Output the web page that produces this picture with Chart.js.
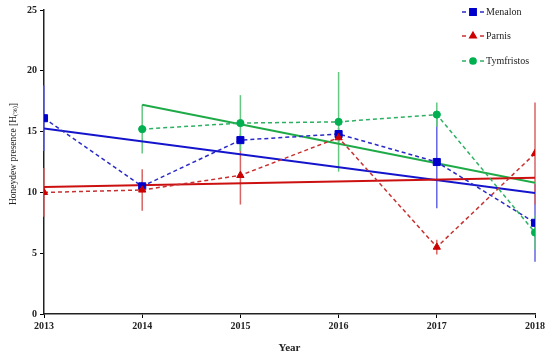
<!DOCTYPE html>
<html>
<head>
<meta charset="utf-8">
<script src="https://cdn.jsdelivr.net/npm/chart.js@4"></script>
<style>
  html, body { margin: 0; padding: 0; background: #fff; }
  #c { display: block; }
</style>
</head>
<body>
<canvas id="c" width="550" height="361"></canvas>
<script>
// ---- data ----
const years = [2013, 2014, 2015, 2016, 2017, 2018];
const yTicks = [0, 5, 10, 15, 20, 25];
const seriesNames = ['Menalon', 'Parnis', 'Tymfristos'];

const menalon    = [16.1, 10.5, 14.3, 14.8, 12.5, 7.5];
const menalonErr = [2.7, 0.4, 0.5, 0.5, 3.8, 3.2];

const parnis    = [10.0, 10.2, 11.4, 14.5, 5.5, 13.2];
const parnisErr = [2.0, 1.7, 2.4, 0.4, 0.6, 4.2];

const tymfristos    = [null, 15.2, 15.7, 15.8, 16.4, 6.7];
const tymfristosErr = [null, 2.0, 2.3, 4.1, 1.0, 1.4];

// linear trend lines (start / end)
const menalonTrendX = [2013, 2018];
const menalonTrend  = [15.25, 9.95];
const parnisTrendX  = [2013, 2018];
const parnisTrend   = [10.45, 11.2];
const tymTrendX     = [2014, 2018];
const tymTrend      = [17.2, 10.8];

// ---- styles ----
const FONT = "'Liberation Serif', 'Times New Roman', serif";
const colors = {
  Menalon:    { mark: '#0000cc', dash: '#2a2ac8', trend: '#1414cc', err: '#6464e6' },
  Parnis:     { mark: '#cc0000', dash: '#c83030', trend: '#cc1010', err: '#d86464' },
  Tymfristos: { mark: '#00b050', dash: '#2eb063', trend: '#1faa48', err: '#64c882' }
};

function pts(xs, ys) {
  const out = [];
  xs.forEach((x, i) => { if (ys[i] !== null) out.push({ x: x, y: ys[i] }); });
  return out;
}

const errSets = [
  { name: 'Menalon', vals: menalon, errs: menalonErr },
  { name: 'Parnis', vals: parnis, errs: parnisErr },
  { name: 'Tymfristos', vals: tymfristos, errs: tymfristosErr }
];

const errorBarPlugin = {
  id: 'errorBars',
  beforeDatasetsDraw(chart) {
    const { ctx, scales: { x, y } } = chart;
    ctx.save();
    ctx.lineWidth = 1.5;
    errSets.forEach(s => {
      ctx.strokeStyle = colors[s.name].err;
      years.forEach((yr, i) => {
        const v = s.vals[i], e = s.errs[i];
        if (v === null || e === null) return;
        const px = x.getPixelForValue(yr);
        ctx.beginPath();
        ctx.moveTo(px, y.getPixelForValue(v - e));
        ctx.lineTo(px, y.getPixelForValue(v + e));
        ctx.stroke();
      });
    });
    ctx.restore();
  }
};

const styleMap = {
  Menalon: { style: 'rect', r: 5 },
  Parnis: { style: 'triangle', r: 4.2 },
  Tymfristos: { style: 'circle', r: 3.6 }
};

const extrasPlugin = {
  id: 'extras',
  afterDraw(chart) {
    const { ctx } = chart;
    ctx.save();
    // Y axis title with subscript
    const cx = 13, cy = 154;
    ctx.translate(cx, cy);
    ctx.rotate(-Math.PI / 2);
    ctx.fillStyle = '#222';
    ctx.textBaseline = 'middle';
    const mainF = 'normal 9.5px ' + FONT;
    const subF = 'normal 6.5px ' + FONT;
    const p1 = 'Honeydew presence [H', p2 = '(%)', p3 = ']';
    ctx.font = mainF; const w1 = ctx.measureText(p1).width; const w3 = ctx.measureText(p3).width;
    ctx.font = subF; const w2 = ctx.measureText(p2).width;
    const tot = w1 + w2 + w3;
    let sx = -tot / 2;
    ctx.textAlign = 'left';
    ctx.font = mainF; ctx.fillText(p1, sx, 0); sx += w1;
    ctx.font = subF; ctx.fillText(p2, sx, 2.5); sx += w2;
    ctx.font = mainF; ctx.fillText(p3, sx, 0);
    ctx.restore();

    // Legend
    ctx.save();
    const rowsY = [12, 36, 61];
    seriesNames.forEach((n, i) => {
      const yy = rowsY[i];
      const c = colors[n];
      ctx.strokeStyle = c.dash;
      ctx.lineWidth = 1.5;
      ctx.beginPath();
      ctx.moveTo(462, yy); ctx.lineTo(466, yy);
      ctx.moveTo(480, yy); ctx.lineTo(484, yy);
      ctx.stroke();
      ctx.fillStyle = c.mark;
      ctx.strokeStyle = c.mark;
      Chart.helpers.drawPoint(ctx, { pointStyle: styleMap[n].style, radius: styleMap[n].r - 0.5, borderWidth: 1, rotation: 0 }, 473, yy);
      ctx.fillStyle = '#222';
      ctx.font = 'normal 10px ' + FONT;
      ctx.textAlign = 'left';
      ctx.textBaseline = 'middle';
      ctx.fillText(n, 486, yy + 0.5);
    });
    ctx.restore();
  }
};

function mainSet(name, ys, order) {
  const c = colors[name];
  return {
    label: name,
    data: pts(years, ys),
    showLine: true,
    borderColor: c.dash,
    borderWidth: 1.5,
    borderDash: [4, 3],
    pointStyle: styleMap[name].style,
    pointRadius: styleMap[name].r,
    pointBackgroundColor: c.mark,
    pointBorderColor: c.mark,
    pointBorderWidth: 1,
    order: order
  };
}
function trendSet(name, xs, ys, order) {
  return {
    label: name + ' trend',
    data: pts(xs, ys),
    showLine: true,
    borderColor: colors[name].trend,
    borderWidth: 2,
    pointRadius: 0,
    order: order
  };
}

new Chart(document.getElementById('c'), {
  type: 'scatter',
  data: {
    datasets: [
      mainSet('Tymfristos', tymfristos, 1),
      mainSet('Parnis', parnis, 2),
      mainSet('Menalon', menalon, 3),
      trendSet('Parnis', parnisTrendX, parnisTrend, 4),
      trendSet('Tymfristos', tymTrendX, tymTrend, 5),
      trendSet('Menalon', menalonTrendX, menalonTrend, 6)
    ]
  },
  options: {
    responsive: false,
    animation: false,
    devicePixelRatio: 1,
    layout: { padding: { top: 10, right: 15, left: 0, bottom: 0 } },
    plugins: { legend: { display: false }, tooltip: { enabled: false } },
    scales: {
      x: {
        type: 'linear',
        min: 2013, max: 2018,
        afterFit(s) { s.height = 47; },
        afterBuildTicks(s) { s.ticks = years.map(v => ({ value: v })); },
        ticks: {
          callback: v => String(v),
          font: { family: FONT, size: 10, weight: 'bold' },
          color: '#222',
          padding: 2,
          maxRotation: 0
        },
        grid: { drawOnChartArea: false, tickLength: 4, color: '#000', lineWidth: 1 },
        border: { color: '#222', width: 1.5 },
        title: {
          display: true,
          text: 'Year',
          font: { family: FONT, size: 11, weight: 'bold' },
          color: '#222',
          padding: { top: 0, bottom: 6 }
        }
      },
      y: {
        min: 0, max: 25,
        afterFit(s) { s.width = 44; },
        afterBuildTicks(s) { s.ticks = yTicks.map(v => ({ value: v })); },
        ticks: {
          font: { family: FONT, size: 10, weight: 'bold' },
          color: '#222',
          padding: 3
        },
        grid: { drawOnChartArea: false, tickLength: 4, color: '#000', lineWidth: 1 },
        border: { color: '#222', width: 1.5 }
      }
    }
  },
  plugins: [errorBarPlugin, extrasPlugin]
});
</script>
</body>
</html>
